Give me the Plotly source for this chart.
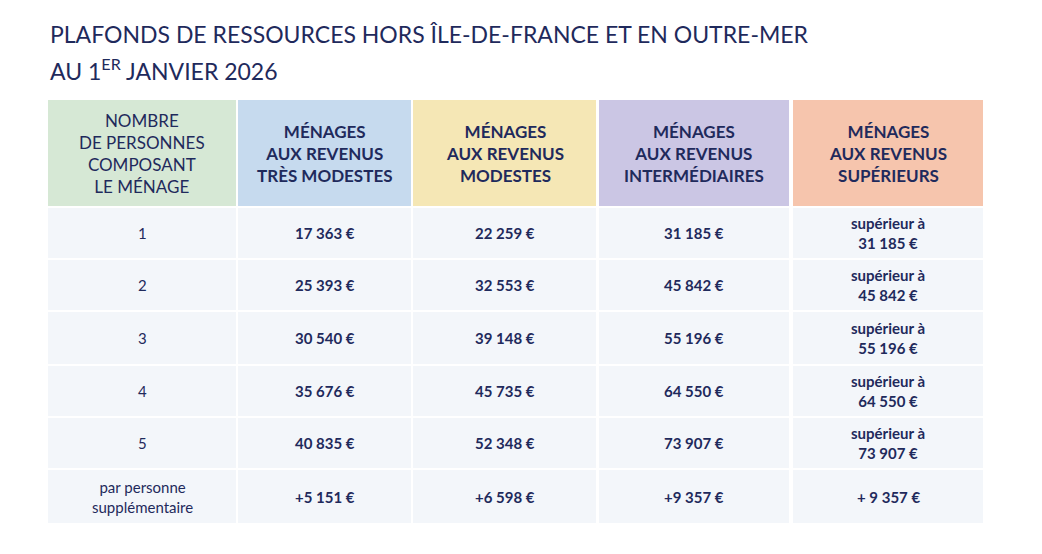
import plotly.graph_objects as go

# table contents
header_labels = [
    "NOMBRE<br>DE PERSONNES<br>COMPOSANT<br>LE MÉNAGE",
    "<b>MÉNAGES<br>AUX REVENUS<br>TRÈS MODESTES</b>",
    "<b>MÉNAGES<br>AUX REVENUS<br>MODESTES</b>",
    "<b>MÉNAGES<br>AUX REVENUS<br>INTERMÉDIAIRES</b>",
    "<b>MÉNAGES<br>AUX REVENUS<br>SUPÉRIEURS</b>",
]
personnes = ["1", "2", "3", "4", "5", "par personne<br>supplémentaire"]
tres_modestes = ["17 363 €", "25 393 €", "30 540 €", "35 676 €", "40 835 €", "+5 151 €"]
modestes = ["22 259 €", "32 553 €", "39 148 €", "45 735 €", "52 348 €", "+6 598 €"]
intermediaires = ["31 185 €", "45 842 €", "55 196 €", "64 550 €", "73 907 €", "+9 357 €"]
superieurs = ["supérieur à<br>31 185 €", "supérieur à<br>45 842 €", "supérieur à<br>55 196 €",
              "supérieur à<br>64 550 €", "supérieur à<br>73 907 €", "+ 9 357 €"]

header_colors = ["#d6e8d5", "#c6daee", "#f5e7b5", "#cbc6e4", "#f6c5ad"]
cell_color = "#f3f6fa"
navy = "#1f2a5c"
W, H = 1042, 554

# grid in pixel coordinates
col_edges = [(40, 228), (230, 403), (405, 588), (591, 781), (785, 975)]
header_rows = (92, 198)
row_edges = [(200, 250), (252, 302), (304, 356), (358, 408), (410, 460), (462, 515)]

columns = [personnes, tres_modestes, modestes, intermediaires, superieurs]

fig = go.Figure()
shapes = []
annotations = []

for j, (x0, x1) in enumerate(col_edges):
    y0, y1 = header_rows
    shapes.append(dict(type="rect", x0=x0, x1=x1, y0=y0, y1=y1, fillcolor=header_colors[j],
                       line_width=0, layer="below"))
    annotations.append(dict(x=(x0 + x1) / 2, y=(y0 + y1) / 2, text=header_labels[j], showarrow=False,
                            align="center", font=dict(family="Lato", size=17, color=navy)))
    for i, (r0, r1) in enumerate(row_edges):
        shapes.append(dict(type="rect", x0=x0, x1=x1, y0=r0, y1=r1, fillcolor=cell_color,
                           line_width=0, layer="below"))
        txt = columns[j][i] if j == 0 else "<b>%s</b>" % columns[j][i]
        annotations.append(dict(x=(x0 + x1) / 2, y=(r0 + r1) / 2, text=txt, showarrow=False,
                                align="center", font=dict(family="Lato", size=15, color=navy)))

annotations.append(dict(x=40, y=26, xanchor="left", showarrow=False,
                        text="PLAFONDS DE RESSOURCES HORS ÎLE-DE-FRANCE ET EN OUTRE-MER",
                        font=dict(family="Lato", size=23, color=navy)))
annotations.append(dict(x=40, y=61, xanchor="left", showarrow=False,
                        text="AU 1<sup>ER</sup> JANVIER 2026",
                        font=dict(family="Lato", size=23, color=navy)))

fig.update_layout(
    width=W, height=H, margin=dict(l=0, r=0, t=0, b=0),
    paper_bgcolor="white", plot_bgcolor="white",
    xaxis=dict(range=[0, W], visible=False, fixedrange=True),
    yaxis=dict(range=[H, 0], visible=False, fixedrange=True),
    shapes=shapes, annotations=annotations, showlegend=False,
)
fig.write_html("out.html")
